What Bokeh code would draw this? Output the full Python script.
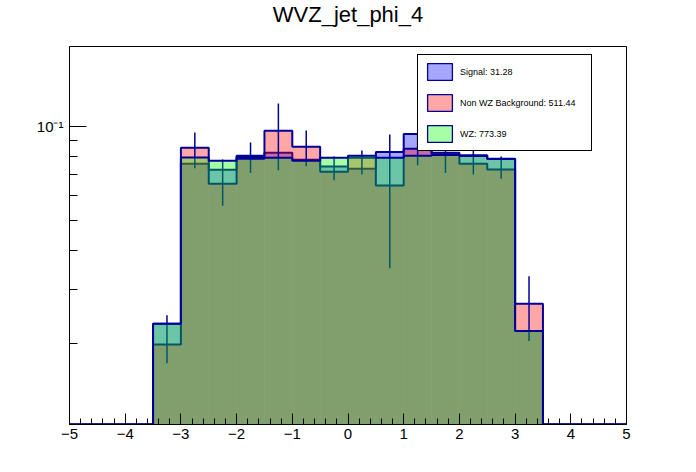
import numpy as np
from bokeh.plotting import figure
from bokeh.models import Range1d, FixedTicker, Legend, LegendItem, Label
from bokeh.embed import file_html
from bokeh.resources import INLINE

# ---- data (normalized histograms, 20 bins from -5 to 5) ----
title_text = "WVZ_jet_phi_4"
x_lo, x_hi, n_bins = -5.0, 5.0, 20
signal = [0, 0, 0, 0.0232, 0.0759, 0.0726, 0.0805, 0.0823, 0.0781, 0.0744,
          0.0731, 0.0827, 0.0945, 0.0814, 0.0808, 0.0787, 0.0220, 0, 0, 0]
nonwz = [0, 0, 0, 0.0199, 0.0854, 0.0654, 0.0798, 0.0969, 0.0861, 0.0715,
         0.0793, 0.0646, 0.0848, 0.0823, 0.0759, 0.0727, 0.0269, 0, 0, 0]
wz = [0, 0, 0, 0.0232, 0.0795, 0.0776, 0.0787, 0.0793, 0.0776, 0.0793,
      0.0805, 0.0793, 0.0805, 0.0810, 0.0804, 0.0786, 0.0220, 0, 0, 0]
# error bar extents of the Non WZ background (lower / upper), nonzero bins
nonwz_err_lo = [0.0173, 0.0734, 0.0556, 0.0708, 0.0723, 0.0745, 0.0672,
                0.0701, 0.0350, 0.0751, 0.0708, 0.0701, 0.0679, 0.0204]
nonwz_err_hi = [0.0247, 0.0957, 0.0783, 0.0888, 0.1186, 0.0971, 0.0801,
                0.0837, 0.0942, 0.0945, 0.0938, 0.0848, 0.0801, 0.0330]
labels = ["Signal: 31.28", "Non WZ Background: 511.44", "WZ: 773.39"]
x_ticks = [-5, -4, -3, -2, -1, 0, 1, 2, 3, 4, 5]
y_major = [0.1]
y_minor = [0.02, 0.03, 0.04, 0.05, 0.06, 0.07, 0.08, 0.09]

# ---- style ----
FONT = "Liberation Sans"
LINE = "#000099"
FILLS = ["#0000ff", "#ff0000", "#00ff00"]
ALPHA = 0.35
Y0, Y1 = 0.0110, 0.1808

edges = np.linspace(x_lo, x_hi, n_bins + 1)
centers = 0.5 * (edges[:-1] + edges[1:])

p = figure(width=680, height=456, output_backend="svg", toolbar_location=None,
           x_range=Range1d(x_lo, x_hi), y_range=Range1d(Y0, Y1),
           y_axis_type="log",
           min_border_left=69, min_border_right=54,
           min_border_top=46, min_border_bottom=32)
p.background_fill_color = "white"
p.border_fill_color = "white"
p.outline_line_color = "black"
p.outline_line_width = 1
p.outline_line_alpha = 1
p.xgrid.visible = False
p.ygrid.visible = False
p.title.text = ""

# title as a label in the panel above the frame
title = Label(x=0.5 * (x_lo + x_hi), y=32, x_units="data", y_units="screen",
              text=title_text, text_align="center", text_baseline="alphabetic",
              text_font=FONT, text_font_size="22px", text_color="black")
p.add_layout(title, "above")


def outline_path(vals):
    xs, ys = [edges[0]], [Y0]
    for i, v in enumerate(vals):
        y = v if v > 0 else Y0
        xs += [edges[i], edges[i + 1]]
        ys += [y, y]
    xs.append(edges[-1])
    ys.append(Y0)
    return xs, ys


legend_items = []
for k, (vals, fc, lab) in enumerate(zip([signal, nonwz, wz], FILLS, labels)):
    v = np.array(vals, dtype=float)
    m = v > 0
    p.quad(left=edges[:-1][m], right=edges[1:][m], bottom=Y0, top=v[m],
           fill_color=fc, fill_alpha=ALPHA, line_color=None)
    xs, ys = outline_path(vals)
    p.line(xs, ys, line_color=LINE, line_width=2)
    if k == 1:
        p.segment(x0=centers[m], y0=nonwz_err_lo, x1=centers[m], y1=nonwz_err_hi,
                  line_color=LINE, line_width=1.5)
    # legend-only swatch (hidden renderer, zero-height)
    dummy = p.quad(left=edges[:1], right=edges[1:2], bottom=[Y0], top=[Y0],
                   fill_color=fc, fill_alpha=ALPHA, line_color=LINE, line_width=1.3)
    dummy.visible = False
    legend_items.append(LegendItem(label=lab, renderers=[dummy]))

legend = Legend(items=legend_items, location=(348, 273), orientation="vertical",
                glyph_width=31, glyph_height=21, label_standoff=5,
                padding=6, spacing=10, margin=0, label_width=125, label_height=21,
                label_text_font=FONT, label_text_font_size="9px",
                label_text_color="black",
                inactive_fill_alpha=0.0,
                border_line_color="black", border_line_width=1, border_line_alpha=1,
                background_fill_color="white", background_fill_alpha=1)
p.add_layout(legend)

# ---- axes ----
xa = p.xaxis[0]
xa.ticker = FixedTicker(ticks=x_ticks,
                        minor_ticks=list(np.round(np.arange(-5, 5.001, 0.2), 2)))
xa.major_label_overrides = {t: ("\u2212" + str(abs(t)) if t < 0 else str(t)) for t in x_ticks}
ya = p.yaxis[0]
ya.ticker = FixedTicker(ticks=y_major, minor_ticks=y_minor)
ya.major_label_overrides = {0.1: "10\u207b\u00b9"}
for ax in (xa, ya):
    ax.axis_line_color = "black"
    ax.axis_line_width = 1
    ax.major_tick_line_color = "black"
    ax.minor_tick_line_color = "black"
    ax.major_tick_out = 0
    ax.minor_tick_out = 0
    ax.major_label_text_font = FONT
    ax.major_label_text_font_size = "15px"
    ax.major_label_text_color = "black"
xa.major_tick_in = 11
xa.minor_tick_in = 6
xa.major_label_standoff = 4
ya.major_tick_in = 17
ya.minor_tick_in = 8
ya.major_label_standoff = 6

open("out.html", "w").write(file_html(p, INLINE))
